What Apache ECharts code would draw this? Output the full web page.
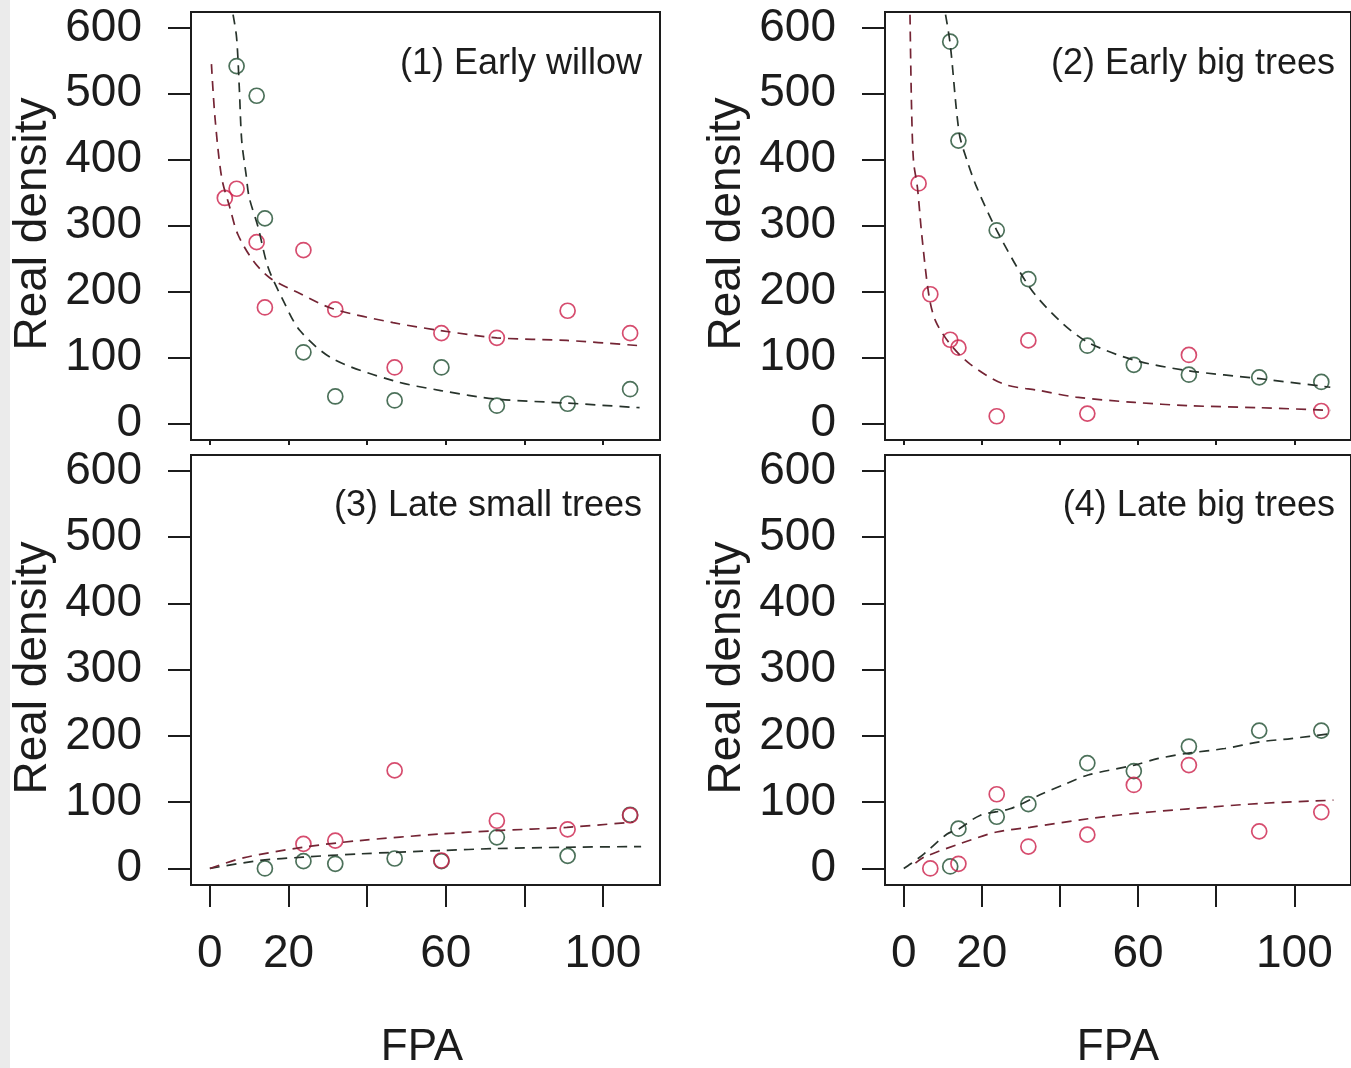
<!DOCTYPE html>
<html>
<head>
<meta charset="utf-8">
<script src="https://cdn.jsdelivr.net/npm/echarts@6/dist/echarts.min.js"></script>
<style>
html,body{margin:0;padding:0;background:#fff;}
#chart{width:1351px;height:1068px;}
</style>
</head>
<body>
<div id="chart"></div>
<script>
// ---- data ----
var fpa = [3.8, 6.8, 11.9, 14.0, 23.8, 31.9, 47.0, 58.9, 73.0, 91.0, 106.9];
var panelTitles = ['(1) Early willow', '(2) Early big trees', '(3) Late small trees', '(4) Late big trees'];
var yTicks = [0, 100, 200, 300, 400, 500, 600];
var xTicks = [0, 20, 40, 60, 80, 100];
var xLabels = [0, 20, 60, 100];

// observed densities (null = not shown)
var p1Green = [null, 542, 497, 311, 108, 41, 35, 85, 27, 30, 52];
var p1Red   = [342, 356, 275, 176, 263, 173, 85, 137, 130, 171, 137];
var p2Green = [null, null, 579, 429, 293, 219, 118, 89, 74, 70, 63];
var p2Red   = [364, 196, 127, 115, 11, 126, 15, null, 104, null, 19];
var p3Green = [null, null, null, 0, 11, 7, 15, 11, 47, 19, 81];
var p3Red   = [null, null, null, null, 37, 42, 148, 12, 72, 59, 80];
var p4Green = [null, null, 3, 60, 78, 97, 159, 147, 184, 208, 208];
var p4Red   = [null, 0, null, 7, 112, 33, 51, 126, 156, 56, 85];

// fitted curves [FPA, density]
var fit1Green = [[5.9,620],[6.8,585],[7.5,507],[8.1,429],[9.2,378],[10.0,343],[12.3,297],[14.8,237],[18.7,186],[22.9,141],[31.3,98],[46.6,65],[58.7,50],[73.0,37],[90.8,31],[109.3,24]];
var fit1Red   = [[0.4,545],[1.3,464],[3.0,373],[5.1,327],[7.1,287],[11.0,247],[15.2,221],[22.9,197],[31.3,174],[46.6,153],[58.7,141],[73.0,130],[90.8,126],[109.3,118]];
var fit2Green = [[10.7,620],[11.9,575],[14.2,440],[16.2,399],[18.7,358],[23.8,293],[32.3,206],[39.9,156],[47.2,123],[59.1,96],[72.9,80],[91.1,68],[109.2,55]];
var fit2Red   = [[1.6,620],[2.0,479],[2.5,398],[3.5,358],[4.6,287],[6.4,196],[8.1,156],[11.8,121],[17.0,90],[25.5,60],[34.8,50],[44.1,40],[59.1,32],[72.9,27],[91.1,24],[109.2,20]];
var fit3Green = [[0,0],[12.7,12],[23.7,17],[38.0,22],[58.7,27],[72.8,30],[90.8,32],[109.7,33]];
var fit3Red   = [[0,0],[8.5,16],[23.7,32],[38.0,42],[58.7,52],[72.8,57],[90.8,62],[107.6,70]];
var fit4Green = [[0,0],[1.8,7],[5.2,22],[11.1,52],[14.2,60],[19.5,80],[27.2,90],[35.6,113],[41.6,128],[47.2,141],[59.1,156],[65.2,166],[72.9,174],[82.2,181],[91.1,191],[99.2,196],[110,204]];
var fit4Red   = [[3.0,8],[5.2,17],[14.2,37],[23.8,55],[32.3,62],[47.2,75],[59.1,83],[72.9,90],[91.1,98],[110,103]];

// ---- styling ----
var FONT = '"Liberation Sans", Arial, sans-serif';
var INK = '#1c1c1c';
var GREEN_PT = '#1f4d31';
var RED_PT = '#cc1f4a';
var GREEN_FIT = '#27332b';
var RED_FIT = '#742434';

function pts(vals) {
  var out = [];
  for (var i = 0; i < fpa.length; i++) if (vals[i] !== null) out.push([fpa[i], vals[i]]);
  return out;
}

var panels = [
  {left:191, top:12, h:428, bottom:false, g:p1Green, r:p1Red, fg:fit1Green, fr:fit1Red},
  {left:885, top:12, h:428, bottom:false, g:p2Green, r:p2Red, fg:fit2Green, fr:fit2Red},
  {left:191, top:455, h:430, bottom:true, g:p3Green, r:p3Red, fg:fit3Green, fr:fit3Red},
  {left:885, top:455, h:430, bottom:true, g:p4Green, r:p4Red, fg:fit4Green, fr:fit4Red}
];

var grids = [], xAxes = [], yAxes = [], series = [];
panels.forEach(function (p, i) {
  grids.push({left:p.left, top:p.top, width:469, height:p.h, show:true,
    borderColor:INK, borderWidth:2, backgroundColor:'#fff', containLabel:false});
  xAxes.push({type:'value', gridIndex:i, min:-4.8, max:114.5, position:'bottom',
    axisLine:{show:false, onZero:false}, splitLine:{show:false},
    axisTick:{show:true, length:p.bottom ? 22 : 5, customValues:xTicks, lineStyle:{color:INK, width:2}},
    axisLabel:{show:p.bottom, customValues:xLabels, margin:46, fontSize:46, fontFamily:FONT, color:INK}
  });
  yAxes.push({type:'value', gridIndex:i, min:-25, max:624, position:'left',
    axisLine:{show:false, onZero:false}, splitLine:{show:false},
    axisTick:{show:true, length:23, customValues:yTicks, lineStyle:{color:INK, width:2}},
    axisLabel:{show:true, customValues:yTicks, margin:49, fontSize:46, fontFamily:FONT, color:INK}
  });
  var lineBase = {type:'line', xAxisIndex:i, yAxisIndex:i, showSymbol:false, smooth:0.3,
    silent:true, animation:false, clip:true};
  series.push(Object.assign({}, lineBase, {data:p.fg, lineStyle:{color:GREEN_FIT, width:1.7, type:[10,7]}}));
  series.push(Object.assign({}, lineBase, {data:p.fr, lineStyle:{color:RED_FIT, width:1.7, type:[10,7]}}));
  var scBase = {type:'scatter', xAxisIndex:i, yAxisIndex:i, symbol:'circle', symbolSize:15, animation:false};
  series.push(Object.assign({}, scBase, {data:pts(p.g), itemStyle:{color:'rgba(0,0,0,0)', borderColor:GREEN_PT, borderWidth:1.7}}));
  series.push(Object.assign({}, scBase, {data:pts(p.r), itemStyle:{color:'rgba(0,0,0,0)', borderColor:RED_PT, borderWidth:1.7}}));
});

var graphics = [
  {type:'rect', left:0, top:0, shape:{width:10, height:1068}, style:{fill:'#ebebeb'}, z:-10}
];
var titlePos = [[642,64],[1335,64],[642,506],[1335,506]];
panelTitles.forEach(function (t, i) {
  graphics.push({type:'text', x:titlePos[i][0], y:titlePos[i][1], z:100,
    style:{text:t, font:'36px ' + FONT, fill:INK, textAlign:'right', textVerticalAlign:'middle'}});
});
[[33,224],[727,224],[33,668],[727,668]].forEach(function (pos) {
  graphics.push({type:'text', x:pos[0], y:pos[1], rotation:Math.PI/2, z:100,
    style:{text:'Real density', font:'46px ' + FONT, fill:INK, textAlign:'center', textVerticalAlign:'middle'}});
});
[[422,1048],[1118,1048]].forEach(function (pos) {
  graphics.push({type:'text', x:pos[0], y:pos[1], z:100,
    style:{text:'FPA', font:'44px ' + FONT, fill:INK, textAlign:'center', textVerticalAlign:'middle'}});
});

var chart = echarts.init(document.getElementById('chart'), null, {renderer:'canvas'});
chart.setOption({
  backgroundColor:'#fff',
  animation:false,
  grid:grids, xAxis:xAxes, yAxis:yAxes, series:series, graphic:graphics
});
</script>
</body>
</html>
